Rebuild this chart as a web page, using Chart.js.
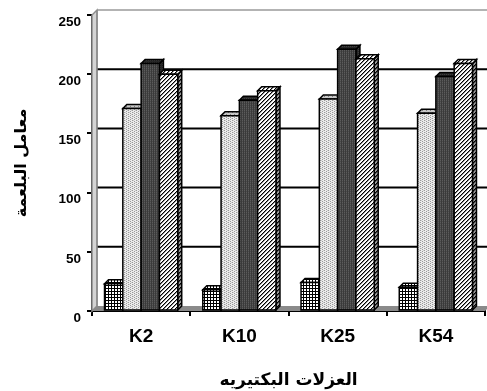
<!DOCTYPE html>
<html>
<head>
<meta charset="utf-8">
<script src="https://cdn.jsdelivr.net/npm/chart.js@4/dist/chart.umd.min.js"></script>
<style>
  html, body { margin: 0; padding: 0; background: #fff; }
  #wrap { width: 487px; height: 391px; }
</style>
</head>
<body>
<div id="wrap"><canvas id="c" width="487" height="391"></canvas></div>
<script>
// Phagocytosis index per bacterial isolate, four treatments per isolate
const categories = ['K2', 'K10', 'K25', 'K54'];
const series1 = [23, 18, 24, 20];
const series2 = [171, 165, 179, 167];
const series3 = [209, 178, 221, 198];
const series4 = [200, 186, 213, 209];
const yTicks = [0, 50, 100, 150, 200, 250];
const yTitle = 'معامل البلعمة';
const xTitle = 'العزلات البكتيريه';

const canvas = document.getElementById('c');
const mainCtx = canvas.getContext('2d');

function makePattern(w, h, paint) {
  const c = document.createElement('canvas');
  c.width = w; c.height = h;
  const g = c.getContext('2d');
  paint(g, w, h);
  return mainCtx.createPattern(c, 'repeat');
}
function px(g, x, y, col) { g.fillStyle = col; g.fillRect(x, y, 1, 1); }

// fine square grid
const gridFill = makePattern(3, 3, (g) => {
  g.fillStyle = '#fff'; g.fillRect(0, 0, 3, 3);
  g.fillStyle = '#000'; g.fillRect(0, 0, 3, 1); g.fillRect(0, 0, 1, 3);
});
// light stipple
const dotFill = makePattern(4, 4, (g) => {
  g.fillStyle = '#ececec'; g.fillRect(0, 0, 4, 4);
  px(g, 0, 0, '#9a9a9a'); px(g, 2, 1, '#9a9a9a'); px(g, 0, 2, '#9a9a9a'); px(g, 2, 3, '#9a9a9a');
  px(g, 1, 0, '#cfcfcf'); px(g, 3, 2, '#cfcfcf');
});
const dotTop = makePattern(4, 4, (g) => {
  g.fillStyle = '#c8c8c8'; g.fillRect(0, 0, 4, 4);
  px(g, 0, 0, '#808080'); px(g, 2, 2, '#808080');
});
// dark fine texture
const darkFill = makePattern(2, 2, (g) => {
  g.fillStyle = '#3a3a3a'; g.fillRect(0, 0, 2, 2);
  px(g, 0, 0, '#5c5c5c'); px(g, 0, 1, '#4a4a4a');
});
const darkSide = makePattern(2, 2, (g) => {
  g.fillStyle = '#262626'; g.fillRect(0, 0, 2, 2);
  px(g, 0, 0, '#404040');
});
// diagonal hatch
const hatchFill = makePattern(4, 4, (g) => {
  g.fillStyle = '#fff'; g.fillRect(0, 0, 4, 4);
  for (let y = 0; y < 4; y++) {
    px(g, (3 - y + 4) % 4, y, '#000');
    px(g, (4 - y) % 4, y, '#8a8a8a');
  }
});
const hatchSide = makePattern(4, 4, (g) => {
  g.fillStyle = '#9a9a9a'; g.fillRect(0, 0, 4, 4);
  for (let y = 0; y < 4; y++) {
    px(g, (3 - y + 4) % 4, y, '#000');
    px(g, (4 - y) % 4, y, '#444');
  }
});

const faces = [
  { front: gridFill, top: gridFill, side: gridFill },
  { front: dotFill, top: dotTop, side: dotTop },
  { front: darkFill, top: darkSide, side: darkSide },
  { front: hatchFill, top: hatchFill, side: hatchSide }
];

const barDepth = 4;
const wallDepth = 5;

function poly(ctx, pts, fill, stroke, lw) {
  ctx.beginPath();
  ctx.moveTo(pts[0][0], pts[0][1]);
  for (let i = 1; i < pts.length; i++) ctx.lineTo(pts[i][0], pts[i][1]);
  ctx.closePath();
  if (fill) { ctx.fillStyle = fill; ctx.fill(); }
  if (stroke) { ctx.strokeStyle = stroke; ctx.lineWidth = lw; ctx.stroke(); }
}

// back wall, side wall, floor and the wall gridlines
const backdrop = {
  id: 'backdrop',
  beforeDatasetsDraw(chart) {
    const { ctx, chartArea: a, scales: { y } } = chart;
    const d = wallDepth;
    ctx.save();
    ctx.lineJoin = 'miter';
    // left wall
    poly(ctx, [[a.left, a.bottom], [a.left, a.top], [a.left + d, a.top - d], [a.left + d, a.bottom - d]], '#d4d4d4', '#8c8c8c', 1.5);
    // floor
    poly(ctx, [[a.left, a.bottom], [a.left + d, a.bottom - d], [a.right + d, a.bottom - d], [a.right, a.bottom]], '#8a8a8a', null, 0);
    // gridlines on the back wall
    yTicks.forEach((v) => {
      if (v === 0) return;
      const py = y.getPixelForValue(v) - d;
      ctx.beginPath();
      ctx.moveTo(a.left + d, py);
      ctx.lineTo(a.right + d, py);
      if (v === yTicks[yTicks.length - 1]) { ctx.strokeStyle = '#9a9a9a'; ctx.lineWidth = 1.5; }
      else { ctx.strokeStyle = '#000'; ctx.lineWidth = 2; }
      ctx.stroke();
    });
    // inner wall edge
    ctx.beginPath();
    ctx.moveTo(a.left + d, a.top - d);
    ctx.lineTo(a.left + d, a.bottom - d);
    ctx.strokeStyle = '#8c8c8c'; ctx.lineWidth = 1.5; ctx.stroke();
    ctx.restore();
  }
};

// bars with top and side faces, drawn left to right so each front hides the previous side
const bars3d = {
  id: 'bars3d',
  afterDatasetsDraw(chart) {
    const { ctx } = chart;
    const d = barDepth;
    const metas = chart.data.datasets.map((_, i) => chart.getDatasetMeta(i));
    ctx.save();
    ctx.lineJoin = 'miter';
    for (let c = 0; c < categories.length; c++) {
      for (let s = 0; s < metas.length; s++) {
        const el = metas[s].data[c];
        const { x, y, base, width } = el.getProps(['x', 'y', 'base', 'width'], true);
        const x0 = x - width / 2, x1 = x + width / 2;
        const f = faces[s];
        poly(ctx, [[x1, y], [x1 + d, y - d], [x1 + d, base - d], [x1, base]], f.side, '#000', 1.5);
        poly(ctx, [[x0, y], [x0 + d, y - d], [x1 + d, y - d], [x1, y]], f.top, '#000', 1.5);
        poly(ctx, [[x0, y], [x1, y], [x1, base], [x0, base]], f.front, '#000', 1.5);
      }
    }
    ctx.restore();
  }
};

const latin = "'Liberation Sans', Arial, sans-serif";
const arabic = "'DejaVu Sans', sans-serif";

new Chart(canvas, {
  type: 'bar',
  data: {
    labels: categories,
    datasets: [series1, series2, series3, series4].map((vals, i) => ({
      data: vals,
      backgroundColor: faces[i].front,
      borderColor: '#000',
      borderWidth: 1.5
    }))
  },
  options: {
    responsive: false,
    animation: false,
    devicePixelRatio: 1,
    layout: { padding: { top: 15, right: 2, left: 0, bottom: 0 } },
    datasets: { bar: { categoryPercentage: 0.745, barPercentage: 1 } },
    plugins: { legend: { display: false }, tooltip: { enabled: false } },
    scales: {
      x: {
        grid: { display: true, drawOnChartArea: false, drawTicks: true, tickLength: 5, color: '#000', lineWidth: 2, offset: true },
        border: { display: true, color: '#000', width: 2 },
        ticks: { color: '#000', font: { family: latin, weight: 'bold', size: 19 }, padding: 9 },
        title: { display: true, text: xTitle, color: '#000', font: { family: arabic, weight: 'bold', size: 17 }, padding: { top: 0, bottom: 0 } },
        afterFit(s) { s.height = 80; }
      },
      y: {
        min: 0, max: 250,
        afterBuildTicks(s) { s.ticks = yTicks.map((v) => ({ value: v })); },
        grid: { display: true, drawOnChartArea: false, drawTicks: true, tickLength: 5, color: '#000', lineWidth: 2 },
        border: { display: true, color: '#000', width: 2 },
        ticks: { color: '#000', font: { family: latin, weight: 'bold', size: 13.5 }, padding: 6, labelOffset: 7 },
        title: { display: true, text: yTitle, color: '#000', font: { family: arabic, weight: 'bold', size: 16 }, padding: { top: 12, bottom: 0 } },
        afterFit(s) { s.width = 92; }
      }
    }
  },
  plugins: [backdrop, bars3d]
});
</script>
</body>
</html>
